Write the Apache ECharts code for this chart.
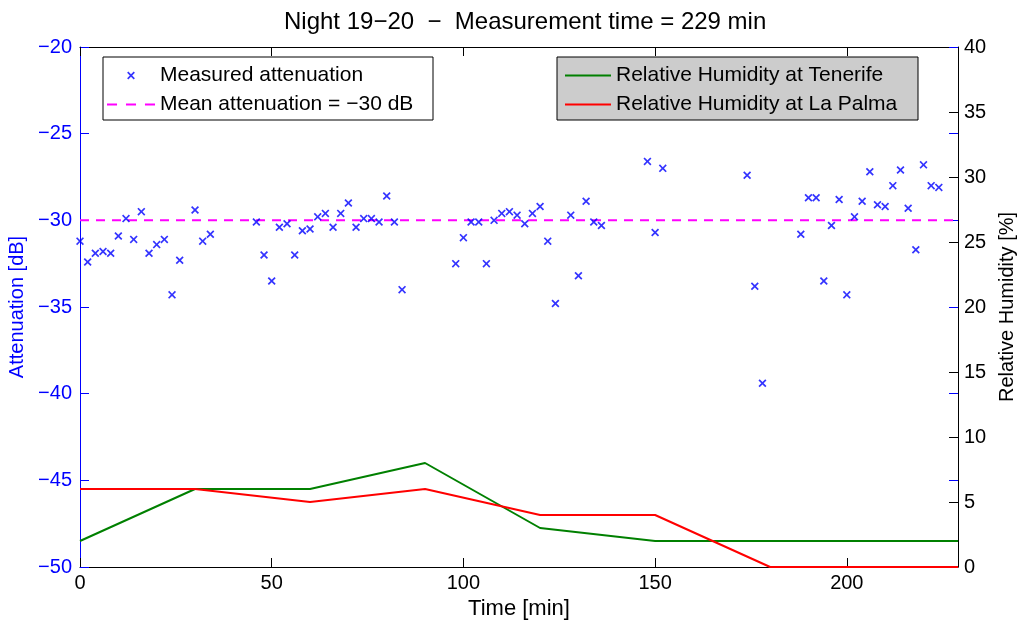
<!DOCTYPE html>
<html>
<head>
<meta charset="utf-8">
<script src="https://cdn.jsdelivr.net/npm/echarts@6/dist/echarts.min.js"></script>
<style>html,body{margin:0;padding:0;background:#fff;}#c{width:1017px;height:620px;}</style>
</head>
<body>
<div id="c"></div>
<script>
// ---- data ----
const title = 'Night 19\u221220  \u2212  Measurement time = 229 min';
const timeMax = 229;
const xTicks = [0, 50, 100, 150, 200];
const attTime = [0,2,4,6,8,10,12,14,16,18,20,22,24,26,30,32,34,
  46,48,50,52,54,56,58,60,62,64,66,68,70,72,74,76,78,80,82,84,
  98,100,102,104,106,108,110,112,114,116,118,120,122,124,128,130,132,134,136,
  148,150,152,174,176,178,
  188,190,192,194,196,198,200,202,204,206,208,210,212,214,216,218,220,222,224];
const attValue = [-31.2,-32.4,-31.9,-31.8,-31.9,-30.9,-29.9,-31.1,-29.5,-31.9,-31.4,-31.1,-34.3,-32.3,-29.4,-31.2,-30.8,
  -30.1,-32.0,-33.5,-30.4,-30.2,-32.0,-30.6,-30.5,-29.8,-29.6,-30.4,-29.6,-29.0,-30.4,-29.9,-29.9,-30.1,-28.6,-30.1,-34.0,
  -32.5,-31.0,-30.1,-30.1,-32.5,-30.0,-29.6,-29.5,-29.7,-30.2,-29.6,-29.2,-31.2,-34.8,-29.7,-33.2,-28.9,-30.1,-30.3,
  -26.6,-30.7,-27.0,-27.4,-33.8,-39.4,
  -30.8,-28.7,-28.7,-33.5,-30.3,-28.8,-34.3,-29.8,-28.9,-27.2,-29.1,-29.2,-28.0,-27.1,-29.3,-31.7,-26.8,-28.0,-28.1];
const meanAtt = -30;
const rhTime = [0, 30, 60, 90, 120, 150, 180, 210, 229];
const rhTenerife = [2, 6, 6, 8, 3, 2, 2, 2, 2];
const rhLaPalma = [6, 6, 5, 6, 4, 4, 0, 0, 0];
const attTicks = [-50, -45, -40, -35, -30, -25, -20];
const rhTicks = [0, 5, 10, 15, 20, 25, 30, 35, 40];

// ---- chart ----
const FONT = '"Liberation Sans", Arial, Helvetica, sans-serif';
const X_PATH = 'path://M0,1.5L1.5,0L5,3.5L8.5,0L10,1.5L6.5,5L10,8.5L8.5,10L5,6.5L1.5,10L0,8.5L3.5,5Z';
const X_ICON = 'path://M-4,-4M14,14M0,1.5L1.5,0L5,3.5L8.5,0L10,1.5L6.5,5L10,8.5L8.5,10L5,6.5L1.5,10L0,8.5L3.5,5Z';
const LINE_ICON = 'path://M0,0L46,0L46,2L0,2Z';
const DASH_ICON = 'path://M0,0L9,0L9,2L0,2Z M17,0L26,0L26,2L17,2Z M34,0L43,0L43,2L34,2Z';
const minus = v => String(v).replace('-', '\u2212');
const G = {left: 80, right: 59, top: 47, bottom: 53, containLabel: false, outerBoundsMode: 'none'};

const chart = echarts.init(document.getElementById('c'), null, {renderer: 'canvas'});
chart.setOption({
  animation: false,
  backgroundColor: '#fff',
  textStyle: {fontFamily: FONT},
  title: {
    text: title, left: 279, top: 5,
    textStyle: {fontFamily: FONT, fontSize: 24, fontWeight: 'normal', color: '#000'}
  },
  grid: [Object.assign({}, G), Object.assign({}, G)],
  graphic: [
    {type: 'rect', z: 50, shape: {x: 103, y: 57, width: 330, height: 63},
     style: {fill: '#fff', stroke: '#000', lineWidth: 1}},
    {type: 'rect', z: 50, shape: {x: 557, y: 57, width: 361, height: 63},
     style: {fill: '#cccccc', stroke: '#000', lineWidth: 1}}
  ],
  legend: [
    {orient: 'vertical', left: 102, top: 60, z: 60, itemWidth: 48, itemHeight: 14, itemGap: 8,
     symbolKeepAspect: true,
     textStyle: {fontFamily: FONT, fontSize: 21, color: '#000', lineHeight: 20},
     data: [{name: 'Measured attenuation', icon: X_ICON, itemStyle: {borderWidth: 0}},
            {name: 'Mean attenuation = \u221230 dB', icon: DASH_ICON, itemStyle: {borderWidth: 0}}]},
    {orient: 'vertical', left: 560, top: 60, z: 60, itemWidth: 46, itemHeight: 14, itemGap: 8,
     symbolKeepAspect: true,
     textStyle: {fontFamily: FONT, fontSize: 21, color: '#000', lineHeight: 20},
     data: [{name: 'Relative Humidity at Tenerife', icon: LINE_ICON, itemStyle: {borderWidth: 0}},
            {name: 'Relative Humidity at La Palma', icon: LINE_ICON, itemStyle: {borderWidth: 0}}]}
  ],
  xAxis: [
    {gridIndex: 0, type: 'value', min: 0, max: timeMax, interval: 50, position: 'bottom',
     name: 'Time [min]', nameLocation: 'middle', nameGap: 31,
     nameTextStyle: {fontFamily: FONT, fontSize: 22, color: '#000'},
     axisLine: {onZero: false, lineStyle: {color: '#000', width: 1}},
     axisTick: {inside: true, length: 9, lineStyle: {color: '#000'}},
     axisLabel: {fontFamily: FONT, fontSize: 20, color: '#000', margin: 6,
       showMaxLabel: false, formatter: v => xTicks.includes(v) ? String(v) : ''},
     splitLine: {show: false}},
    {gridIndex: 0, type: 'value', min: 0, max: timeMax, interval: 50, position: 'top',
     axisLine: {onZero: false, lineStyle: {color: '#000', width: 1}},
     axisTick: {inside: true, length: 9, lineStyle: {color: '#000'}},
     axisLabel: {show: false}, splitLine: {show: false}},
    {gridIndex: 1, type: 'value', min: 0, max: timeMax, show: false}
  ],
  yAxis: [
    {gridIndex: 0, type: 'value', min: -50, max: -20, interval: 5, position: 'left',
     name: 'Attenuation [dB]', nameLocation: 'middle', nameGap: 48,
     nameTextStyle: {fontFamily: FONT, fontSize: 20, color: '#0000ff'},
     axisLine: {show: true, onZero: false, lineStyle: {color: '#0000ff', width: 1}},
     axisTick: {inside: true, length: 9, lineStyle: {color: '#0000ff'}},
     axisLabel: {fontFamily: FONT, fontSize: 20, color: '#0000ff', margin: 8,
       formatter: v => attTicks.includes(v) ? minus(v) : ''},
     splitLine: {show: false}},
    {gridIndex: 0, type: 'value', min: 0, max: 40, interval: 5, position: 'right',
     name: 'Relative Humidity [%]', nameLocation: 'middle', nameGap: 36, nameRotate: 90,
     nameTextStyle: {fontFamily: FONT, fontSize: 20, color: '#000'},
     axisLine: {show: true, onZero: false, lineStyle: {color: '#000', width: 1}},
     axisTick: {inside: true, length: 9, lineStyle: {color: '#000'}},
     axisLabel: {fontFamily: FONT, fontSize: 20, color: '#000', margin: 6,
       formatter: v => rhTicks.includes(v) ? String(v) : ''},
     splitLine: {show: false}},
    {gridIndex: 1, type: 'value', min: -50, max: -20, interval: 5, position: 'right',
     axisLine: {show: false, onZero: false},
     axisTick: {show: true, inside: true, length: 9, lineStyle: {color: '#0000ff'}},
     axisLabel: {show: false}, splitLine: {show: false}}
  ],
  series: [
    {name: 'Measured attenuation', type: 'scatter', xAxisIndex: 0, yAxisIndex: 0,
     symbol: X_PATH, symbolSize: 8, itemStyle: {color: '#0000ff'}, z: 5,
     data: attTime.map((t, i) => [t, attValue[i]])},
    {name: 'Mean attenuation = \u221230 dB', type: 'line', xAxisIndex: 0, yAxisIndex: 0,
     symbol: 'none', lineStyle: {color: '#ff00ff', width: 2, type: [9, 7]},
     itemStyle: {color: '#ff00ff'}, z: 4,
     data: [[0, meanAtt], [timeMax, meanAtt]]},
    {name: 'Relative Humidity at Tenerife', type: 'line', xAxisIndex: 0, yAxisIndex: 1,
     symbol: 'none', lineStyle: {color: '#008000', width: 2}, itemStyle: {color: '#008000'},
     data: rhTime.map((t, i) => [t, rhTenerife[i]])},
    {name: 'Relative Humidity at La Palma', type: 'line', xAxisIndex: 0, yAxisIndex: 1,
     symbol: 'none', lineStyle: {color: '#ff0000', width: 2}, itemStyle: {color: '#ff0000'},
     data: rhTime.map((t, i) => [t, rhLaPalma[i]])}
  ]
});
</script>
</body>
</html>
